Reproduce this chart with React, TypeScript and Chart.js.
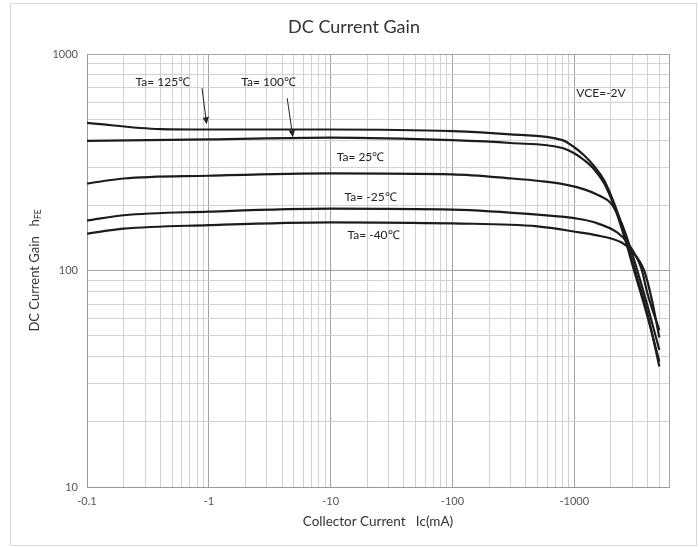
import React, { useEffect, useRef } from 'react';
import { Chart, registerables } from 'chart.js';

Chart.register(...registerables);

// ---- Data (Collector current Ic in mA, DC current gain hFE) ----
const IC_125 = [0.1, 0.4, 1, 10, 100, 300, 800, 1000, 1210, 1460, 1760, 2130, 2570, 3100, 3970, 5000];
const HFE_125 = [481, 450, 448, 448, 440, 425, 400, 371, 340, 303, 261, 204, 150, 104, 64, 36];

const IC_100 = [0.1, 1, 10, 100, 300, 800, 1000, 1210, 1460, 1760, 2130, 2570, 3100, 3970, 5000];
const HFE_100 = [397, 403, 411, 400, 388, 368, 348, 323, 293, 253, 198, 144, 100, 62, 38];

const IC_25 = [0.1, 0.2, 1, 10, 100, 310, 520, 830, 1210, 1600, 2010, 2430, 2930, 3750, 5000];
const HFE_25 = [252, 266, 274, 281, 278, 266, 259, 250, 237, 222, 204, 167, 124, 78, 43];

const IC_M25 = [0.1, 0.2, 1, 10, 100, 500, 1100, 1460, 2250, 2720, 3540, 4000, 5000];
const HFE_M25 = [170, 180, 187, 193, 191, 181, 173, 167, 150, 135, 103, 78, 53];

const IC_M40 = [0.1, 0.2, 1, 10, 100, 500, 1100, 1460, 2430, 2930, 3750, 4300, 5000];
const HFE_M40 = [148, 156, 162, 167, 165, 160, 150, 146, 135, 124, 100, 75, 49];

const SERIES_NAMES = ['Ta= 125℃', 'Ta= 100℃', 'Ta= 25℃', 'Ta= -25℃', 'Ta= -40℃'];
const SERIES_IC = [IC_125, IC_100, IC_25, IC_M25, IC_M40];
const SERIES_HFE = [HFE_125, HFE_100, HFE_25, HFE_M25, HFE_M40];

// ---- Axes ----
const X_TICKS = [
  0.1, 0.2, 0.3, 0.4, 0.5, 0.6, 0.7, 0.8, 0.9,
  1, 2, 3, 4, 5, 6, 7, 8, 9,
  10, 20, 30, 40, 50, 60, 70, 80, 90,
  100, 200, 300, 400, 500, 600, 700, 800, 900,
  1000, 2000, 3000, 4000, 5000, 6000,
];
const X_MAJOR = [0.1, 1, 10, 100, 1000, 6000];
const X_LABEL_VALUES = [0.1, 1, 10, 100, 1000];
const X_LABEL_TEXTS = ['-0.1', '-1', '-10', '-100', '-1000'];

const Y_TICKS = [10, 20, 30, 40, 50, 60, 70, 80, 90, 100, 200, 300, 400, 500, 600, 700, 800, 900, 1000];
const Y_MAJOR = [10, 100, 1000];
const Y_LABEL_VALUES = [10, 100, 1000];
const Y_LABEL_TEXTS = ['10', '100', '1000'];

const TITLE = 'DC Current Gain';
const X_TITLE = 'Collector Current   Ic(mA)';
const Y_TITLE_MAIN = 'DC Current Gain   h';
const Y_TITLE_SUB = 'FE';

// ---- Annotations (data coordinates) ----
const NOTE_TEXTS = ['Ta= 125℃', 'Ta= 100℃', 'VCE=-2V', 'Ta= 25℃', 'Ta= -25℃', 'Ta= -40℃'];
const NOTE_X = [0.42, 3.1, 1660, 17.6, 21.3, 22.5];
const NOTE_Y = [741, 741, 659, 333, 218, 145];
const ARROW_FROM_X = [0.88, 4.4];
const ARROW_FROM_Y = [696, 625];
const ARROW_TO_X = [0.96, 4.9];
const ARROW_TO_Y = [474, 413];

const FONT = 'Lato, "Open Sans", "Liberation Sans", sans-serif';

const framePlugin = {
  id: 'frame',
  beforeDraw(chart: any) {
    const { ctx, width, height } = chart;
    ctx.save();
    ctx.fillStyle = '#ffffff';
    ctx.fillRect(0, 0, width, height);
    ctx.strokeStyle = '#d9d9d9';
    ctx.lineWidth = 1;
    ctx.strokeRect(10.5, 3.5, width - 13, height - 5);
    ctx.restore();
  },
};

const textPlugin = {
  id: 'texts',
  afterDraw(chart: any) {
    const { ctx, chartArea } = chart;
    const xs = chart.scales.x;
    const ys = chart.scales.y;
    ctx.save();
    // Title
    ctx.fillStyle = '#333333';
    ctx.font = `18px ${FONT}`;
    ctx.textAlign = 'center';
    ctx.textBaseline = 'middle';
    ctx.fillText(TITLE, (chartArea.left + chartArea.right) / 2 - 24, 27);

    // X title
    ctx.font = `13.5px ${FONT}`;
    ctx.fillText(X_TITLE, (chartArea.left + chartArea.right) / 2, 522);

    // Y title with subscript
    ctx.save();
    ctx.translate(35, (chartArea.top + chartArea.bottom) / 2);
    ctx.rotate(-Math.PI / 2);
    ctx.font = `13px ${FONT}`;
    const w1 = ctx.measureText(Y_TITLE_MAIN).width;
    ctx.font = `8.5px ${FONT}`;
    const w2 = ctx.measureText(Y_TITLE_SUB).width;
    const start = -(w1 + w2) / 2;
    ctx.textAlign = 'left';
    ctx.font = `13px ${FONT}`;
    ctx.fillText(Y_TITLE_MAIN, start, 0);
    ctx.font = `8.5px ${FONT}`;
    ctx.fillText(Y_TITLE_SUB, start + w1, 3);
    ctx.restore();

    // Annotation labels
    ctx.fillStyle = '#222222';
    ctx.font = `12px ${FONT}`;
    ctx.textAlign = 'center';
    ctx.textBaseline = 'middle';
    NOTE_TEXTS.forEach((t, i) => {
      ctx.fillText(t, xs.getPixelForValue(NOTE_X[i]), ys.getPixelForValue(NOTE_Y[i]));
    });

    // Arrows
    ctx.strokeStyle = '#222222';
    ctx.fillStyle = '#222222';
    ctx.lineWidth = 1;
    ARROW_FROM_X.forEach((_, i) => {
      const x1 = xs.getPixelForValue(ARROW_FROM_X[i]);
      const y1 = ys.getPixelForValue(ARROW_FROM_Y[i]);
      const x2 = xs.getPixelForValue(ARROW_TO_X[i]);
      const y2 = ys.getPixelForValue(ARROW_TO_Y[i]);
      const ang = Math.atan2(y2 - y1, x2 - x1);
      const hl = 7;
      const hw = 3.2;
      const bx = x2 - hl * Math.cos(ang);
      const by = y2 - hl * Math.sin(ang);
      ctx.beginPath();
      ctx.moveTo(x1, y1);
      ctx.lineTo(bx, by);
      ctx.stroke();
      ctx.beginPath();
      ctx.moveTo(x2, y2);
      ctx.lineTo(bx + hw * Math.sin(ang), by - hw * Math.cos(ang));
      ctx.lineTo(bx - hw * Math.sin(ang), by + hw * Math.cos(ang));
      ctx.closePath();
      ctx.fill();
    });
    ctx.restore();
  },
};

export default function App() {
  const ref = useRef<HTMLCanvasElement | null>(null);

  useEffect(() => {
    const canvas = ref.current;
    if (!canvas) return;
    const datasets = SERIES_NAMES.map((name, i) => ({
      label: name,
      data: SERIES_IC[i].map((x, j) => ({ x, y: SERIES_HFE[i][j] })),
      borderColor: '#1c1c1c',
      borderWidth: 2.2,
      pointRadius: 0,
      fill: false,
      cubicInterpolationMode: 'monotone' as const,
    }));

    const gridColor = (majors: number[]) => (c: any) => {
      const v = c.tick ? c.tick.value : null;
      return v !== null && majors.some((m) => Math.abs(m - v) < 1e-9) ? '#a3a3a3' : '#d2d2d2';
    };

    const chart = new Chart(canvas, {
      type: 'line',
      data: { datasets },
      options: {
        responsive: false,
        animation: false,
        layout: { padding: { top: 54, right: 30, left: 0, bottom: 0 } },
        plugins: {
          legend: { display: false },
          tooltip: { enabled: false },
          title: { display: false },
        },
        scales: {
          x: {
            type: 'logarithmic',
            min: 0.1,
            max: 6000,
            afterBuildTicks: (s: any) => {
              s.ticks = X_TICKS.map((v) => ({ value: v }));
            },
            afterFit: (s: any) => {
              s.height = 60;
            },
            ticks: {
              autoSkip: false,
              maxRotation: 0,
              minRotation: 0,
              padding: 8,
              color: '#555555',
              font: { family: FONT, size: 11 },
              callback: (v: any) => {
                const k = X_LABEL_VALUES.findIndex((m) => Math.abs(m - Number(v)) < 1e-9);
                return k >= 0 ? X_LABEL_TEXTS[k] : '';
              },
            },
            grid: { color: gridColor(X_MAJOR), lineWidth: 1, drawTicks: false },
            border: { color: '#999999', width: 1 },
          },
          y: {
            type: 'logarithmic',
            min: 10,
            max: 1000,
            afterBuildTicks: (s: any) => {
              s.ticks = Y_TICKS.map((v) => ({ value: v }));
            },
            afterFit: (s: any) => {
              s.width = 87;
            },
            ticks: {
              autoSkip: false,
              padding: 9,
              color: '#555555',
              font: { family: FONT, size: 11 },
              callback: (v: any) => {
                const k = Y_LABEL_VALUES.findIndex((m) => Math.abs(m - Number(v)) < 1e-9);
                return k >= 0 ? Y_LABEL_TEXTS[k] : '';
              },
            },
            grid: { color: gridColor(Y_MAJOR), lineWidth: 1, drawTicks: false },
            border: { color: '#999999', width: 1 },
          },
        },
      },
      plugins: [framePlugin, textPlugin],
    } as any);

    return () => chart.destroy();
  }, []);

  return (
    <div style={{ position: 'fixed', left: 0, top: 0, width: 699, height: 547, background: '#fff' }}>
      <canvas ref={ref} width={699} height={547} style={{ display: 'block', width: 699, height: 547 }} />
    </div>
  );
}
